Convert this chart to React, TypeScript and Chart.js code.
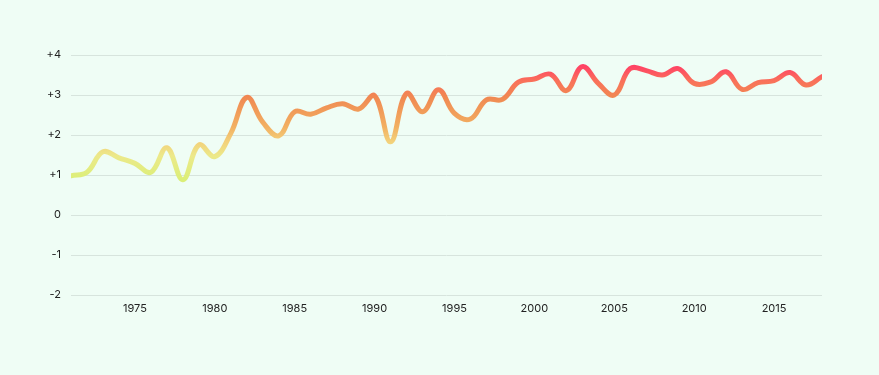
import React, { useEffect, useRef } from "react";
import { Chart, registerables } from "chart.js";

Chart.register(...registerables);

const years: number[] = [
  1971, 1972, 1973, 1974, 1975, 1976, 1977, 1978, 1979, 1980,
  1981, 1982, 1983, 1984, 1985, 1986, 1987, 1988, 1989, 1990,
  1991, 1992, 1993, 1994, 1995, 1996, 1997, 1998, 1999, 2000,
  2001, 2002, 2003, 2004, 2005, 2006, 2007, 2008, 2009, 2010,
  2011, 2012, 2013, 2014, 2015, 2016, 2017, 2018,
];

const anomalies: number[] = [
  0.98, 1.07, 1.58, 1.43, 1.29, 1.07, 1.68, 0.88, 1.75, 1.46,
  2.04, 2.94, 2.32, 1.98, 2.58, 2.52, 2.68, 2.78, 2.65, 2.98,
  1.83, 3.04, 2.58, 3.13, 2.54, 2.4, 2.88, 2.89, 3.32, 3.4,
  3.52, 3.11, 3.71, 3.29, 3.0, 3.66, 3.61, 3.5, 3.66, 3.29,
  3.32, 3.58, 3.14, 3.31, 3.36, 3.56, 3.25, 3.46,
];

const xTickValues: number[] = [1975, 1980, 1985, 1990, 1995, 2000, 2005, 2010, 2015];
const yMin = -2;
const yMax = 4;

const gradientStops: [number, string][] = [
  [0, "#b8ec7a"],
  [0.48, "#dbef78"],
  [0.58, "#ece98a"],
  [0.64, "#f3d07a"],
  [0.7, "#f2b062"],
  [0.82, "#f08a52"],
  [0.89, "#f9725a"],
  [0.95, "#ff4464"],
  [1, "#ff3366"],
];

export default function App() {
  const canvasRef = useRef<HTMLCanvasElement | null>(null);

  useEffect(() => {
    document.body.style.margin = "0";
    document.body.style.background = "#effdf5";
    const canvas = canvasRef.current;
    if (!canvas) return;

    const gradientFor = (ctx: any) => {
      const chart = ctx.chart;
      const area = chart.chartArea;
      if (!area) return "#f08a52";
      const g = chart.ctx.createLinearGradient(0, area.bottom, 0, area.top);
      gradientStops.forEach(([o, c]) => g.addColorStop(o, c));
      return g;
    };

    const chart = new Chart(canvas, {
      type: "line",
      data: {
        datasets: [
          {
            data: years.map((y, i) => ({ x: y, y: anomalies[i] })),
            borderColor: gradientFor,
            borderWidth: 5,
            tension: 0.4,
            pointRadius: 0,
            pointHoverRadius: 0,
            fill: false,
            borderCapStyle: "round",
            borderJoinStyle: "round",
          },
        ],
      },
      options: {
        animation: false,
        responsive: false,
        maintainAspectRatio: false,
        layout: { padding: { top: 55, right: 57, bottom: 0, left: 0 } },
        plugins: { legend: { display: false }, tooltip: { enabled: false } },
        font: { family: "Inter" },
        scales: {
          x: {
            type: "linear",
            min: 1971,
            max: 2018,
            grid: { display: false, drawTicks: false },
            border: { display: false },
            afterBuildTicks: (scale: any) => {
              scale.ticks = xTickValues.map((v) => ({ value: v }));
            },
            afterFit: (scale: any) => {
              scale.height = 80;
            },
            ticks: {
              padding: 7,
              color: "#222",
              font: { family: "Inter", size: 11 },
              maxRotation: 0,
              callback: (v: any) => String(v),
            },
          },
          y: {
            min: yMin,
            max: yMax,
            grid: { color: "#d7e4dd", drawTicks: false, lineWidth: 1 },
            border: { display: false },
            afterFit: (scale: any) => {
              scale.width = 71;
            },
            ticks: {
              stepSize: 1,
              padding: 10,
              color: "#222",
              font: { family: "Inter", size: 11 },
              callback: (v: any) => (Number(v) > 0 ? "+" + v : String(v)),
            },
          },
        },
      },
    } as any);

    return () => chart.destroy();
  }, []);

  return (
    <div style={{ width: 879, height: 375, background: "#effdf5" }}>
      <canvas ref={canvasRef} width={879} height={375} style={{ display: "block" }} />
    </div>
  );
}
